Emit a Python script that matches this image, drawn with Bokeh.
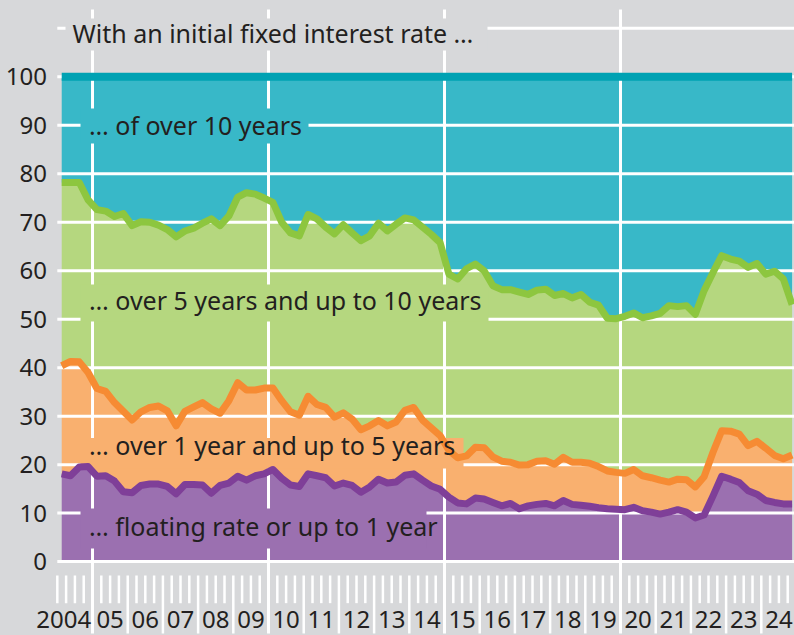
import numpy as np
from bokeh.plotting import figure
from bokeh.models import Range1d, ColumnDataSource
from bokeh.core.properties import value
from bokeh.embed import file_html
from bokeh.resources import INLINE

# ---------------- data (shares in %, quarterly, 2004 Q1 - 2024 Q4) ----------------
start_year = 2004
quarters = [f"{start_year + i // 4} Q{i % 4 + 1}" for i in range(84)]

floating = [18.1, 17.7, 19.5, 19.6, 17.6, 17.7, 16.6, 14.4, 14.2, 15.7, 16.0, 16.0,
            15.5, 14.0, 15.9, 15.9, 15.8, 14.1, 15.7, 16.2, 17.6, 16.8, 17.7, 18.1,
            19.0, 17.2, 15.8, 15.5, 18.1, 17.7, 17.3, 15.6, 16.2, 15.7, 14.3, 15.4,
            17.0, 16.2, 16.4, 17.8, 18.1, 16.8, 15.6, 14.9, 13.3, 12.1, 11.9, 13.1,
            12.9, 12.2, 11.5, 12.0, 10.9, 11.5, 11.8, 12.0, 11.5, 12.6, 11.8, 11.6,
            11.4, 11.1, 10.9, 10.8, 10.7, 11.2, 10.5, 10.2, 9.8, 10.2, 10.7, 10.2,
            9.0, 9.6, 13.5, 17.6, 17.0, 16.3, 14.6, 13.9, 12.6, 12.2, 11.9, 11.9]
over1_upto5 = [22.3, 23.6, 21.7, 19.4, 18.1, 17.4, 16.2, 16.6, 15.0, 15.2, 15.8, 16.1,
               15.6, 14.0, 15.1, 16.0, 17.0, 17.4, 14.9, 17.0, 19.3, 18.6, 17.7, 17.7,
               16.8, 16.0, 15.1, 14.7, 16.0, 14.7, 14.5, 14.2, 14.5, 13.7, 12.9, 12.6,
               12.1, 11.8, 12.4, 13.4, 13.7, 12.4, 12.0, 11.1, 9.6, 9.3, 9.9, 10.5,
               10.6, 9.4, 9.2, 8.5, 9.0, 8.5, 8.9, 8.8, 8.6, 8.9, 8.7, 8.9,
               8.9, 8.5, 7.8, 7.6, 7.5, 7.8, 7.2, 7.1, 7.0, 6.2, 6.3, 6.7,
               6.4, 7.9, 9.0, 9.4, 9.9, 10.0, 9.3, 10.9, 10.8, 9.7, 9.3, 10.1]
over5_upto10 = [37.8, 36.9, 37.0, 35.6, 36.9, 37.2, 38.4, 40.8, 40.1, 39.2, 38.2, 37.3,
                37.4, 39.0, 37.2, 36.9, 37.0, 39.2, 38.7, 38.1, 38.3, 40.7, 40.4, 39.2,
                38.3, 36.8, 36.9, 37.0, 37.5, 38.3, 37.2, 37.8, 38.8, 38.4, 39.0, 39.2,
                40.7, 40.2, 40.8, 39.7, 38.7, 39.8, 39.9, 39.8, 36.4, 36.9, 38.6, 37.8,
                36.5, 35.3, 35.4, 35.6, 35.7, 35.1, 35.3, 35.4, 34.8, 33.8, 33.9, 34.6,
                33.2, 33.3, 31.5, 31.7, 32.4, 32.3, 32.6, 33.4, 34.4, 36.4, 35.6, 35.9,
                35.6, 38.4, 37.1, 36.1, 35.5, 35.7, 36.8, 36.7, 35.9, 38.0, 37.1, 31.0]
over10 = [21.8, 21.8, 21.8, 25.4, 27.4, 27.7, 28.8, 28.2, 30.7, 29.9, 30.0, 30.6,
          31.5, 33.0, 31.8, 31.2, 30.2, 29.3, 30.7, 28.7, 24.8, 23.9, 24.2, 25.0,
          25.9, 30.0, 32.2, 32.8, 28.4, 29.3, 31.0, 32.4, 30.5, 32.2, 33.8, 32.8,
          30.2, 31.8, 30.4, 29.1, 29.5, 31.0, 32.5, 34.2, 40.7, 41.7, 39.6, 38.6,
          40.0, 43.1, 43.9, 43.9, 44.4, 44.9, 44.0, 43.8, 45.1, 44.7, 45.6, 44.9,
          46.5, 47.1, 49.8, 49.9, 49.4, 48.7, 49.7, 49.3, 48.8, 47.2, 47.4, 47.2,
          49.0, 44.1, 40.4, 36.9, 37.6, 38.0, 39.3, 38.5, 40.7, 40.1, 41.7, 47.0]

y_tick_values = list(range(0, 101, 10))
grid_levels = list(range(0, 111, 10))
last_label_year = 2024
year_labels = ["2004"] + [f"{y % 100:02d}" for y in range(2005, last_label_year + 1)]

title_text = "With an initial fixed interest rate \u2026"
label_texts = ["\u2026 of over 10 years",
               "\u2026 over 5 years and up to 10 years",
               "\u2026 over 1 year and up to 5 years",
               "\u2026 floating rate or up to 1 year"]

# ---------------- styling / layout ----------------
BG = "#d7d8da"
TEAL, TEAL_LINE = "#38b8c8", "#00a2b3"
GREEN, GREEN_LINE = "#b5d77f", "#8dc63f"
ORANGE, ORANGE_LINE = "#f9b06f", "#f68b33"
PURPLE, PURPLE_LINE = "#9b70b0", "#7f3f98"
TXT = "#231f20"
FONT = value("Noto Sans")

X0, X1 = 2002.386, 2024.943
Y0, Y1 = -15.25, 115.75

# label placement (data units) and their background boxes
label_x = 2004.900
label_y = [90.16, 53.96, 24.06, 7.26]
label_bg = [TEAL, GREEN, ORANGE, PURPLE]
box_left = 2004.659
box_right = [2011.136, 2016.250, 2015.540, 2014.488]
box_top = [93.46, 57.17, 25.50, 10.95]
box_bottom = [86.26, 49.53, 19.20, 2.70]

# ---------------- derived ----------------
t = np.array([start_year + (i + 0.5) / 4 for i in range(len(quarters))])
c1 = np.array(floating)
c2 = c1 + np.array(over1_upto5)
c3 = c2 + np.array(over5_upto10)
c4 = c3 + np.array(over10)
src = ColumnDataSource(dict(t=t, zero=np.zeros_like(t), c1=c1, c2=c2, c3=c3, c4=c4))

p = figure(width=794, height=635, x_range=Range1d(X0, X1), y_range=Range1d(Y0, Y1),
           output_backend="svg", toolbar_location=None,
           x_axis_location=None, y_axis_location=None, min_border=0,
           background_fill_color=BG, border_fill_color=BG, outline_line_color=None)
p.grid.grid_line_color = None

# stacked areas
p.varea(x="t", y1="zero", y2="c1", source=src, fill_color=PURPLE)
p.varea(x="t", y1="c1", y2="c2", source=src, fill_color=ORANGE)
p.varea(x="t", y1="c2", y2="c3", source=src, fill_color=GREEN)
p.varea(x="t", y1="c3", y2="c4", source=src, fill_color=TEAL)

# white grid lines
p.segment(x0=[float(start_year)] * len(grid_levels), x1=[X1 + 1] * len(grid_levels),
          y0=grid_levels, y1=grid_levels, line_color="white", line_width=3)
five_years = [y for y in range(2005, last_label_year + 1) if y % 5 == 0]
p.segment(x0=five_years, x1=five_years, y0=[113.9] * len(five_years),
          y1=[-14.83] * len(five_years), line_color="white", line_width=3)

# x axis: year separators and quarter ticks
other_years = [y for y in range(2005, last_label_year + 1) if y % 5 != 0]
p.segment(x0=other_years, x1=other_years, y0=[-2.87] * len(other_years),
          y1=[-14.83] * len(other_years), line_color="white", line_width=2.5)
qt = [float(start_year)] + [y + q / 4 for y in range(start_year, last_label_year + 1) for q in (1, 2, 3)]
p.segment(x0=qt, x1=qt, y0=[-2.87] * len(qt), y1=[-8.58] * len(qt),
          line_color="white", line_width=2.5)

# background boxes of the texts
p.quad(left=[2004.233], right=[2016.221], top=[112.05], bottom=[105.45],
       fill_color=BG, line_color=None)
p.quad(left=[box_left] * 4, right=box_right, top=box_top, bottom=box_bottom,
       fill_color=label_bg, line_color=None)

# lines
p.line(x="t", y="c1", source=src, line_color=PURPLE_LINE, line_width=7, line_join="round")
p.line(x="t", y="c2", source=src, line_color=ORANGE_LINE, line_width=7, line_join="round")
p.line(x="t", y="c3", source=src, line_color=GREEN_LINE, line_width=7, line_join="round")
p.line(x="t", y="c4", source=src, line_color=TEAL_LINE, line_width=8)

# texts
p.text(x=[2004.431], y=[108.96], text=[title_text], text_font=FONT, text_font_size="25px",
       text_color=TXT, text_baseline="alphabetic", text_align="left")
p.text(x=[label_x] * 4, y=label_y, text=label_texts, text_font=FONT, text_font_size="25px",
       text_color=TXT, text_baseline="alphabetic", text_align="left")

# y tick labels
p.text(x=[2003.707] * len(y_tick_values), y=y_tick_values, text=[str(v) for v in y_tick_values],
       text_font=FONT, text_font_size="24px", text_color=TXT,
       text_align="right", text_baseline="middle")

# year labels
year_y = -11.94
p.text(x=[2004.963], y=[year_y], text=[year_labels[0]], text_font=FONT, text_font_size="24px",
       text_color=TXT, text_align="right", text_baseline="alphabetic")
p.text(x=[y + 0.5 for y in range(2005, last_label_year + 1)], y=[year_y] * (len(year_labels) - 1),
       text=year_labels[1:], text_font=FONT, text_font_size="24px",
       text_color=TXT, text_align="center", text_baseline="alphabetic")

html = file_html(p, INLINE, title="Fixed interest rate shares")
html = html.replace("</head>", "<style>html,body{margin:0;padding:0;background:#d7d8da;}</style></head>", 1)
open("out.html", "w").write(html)
